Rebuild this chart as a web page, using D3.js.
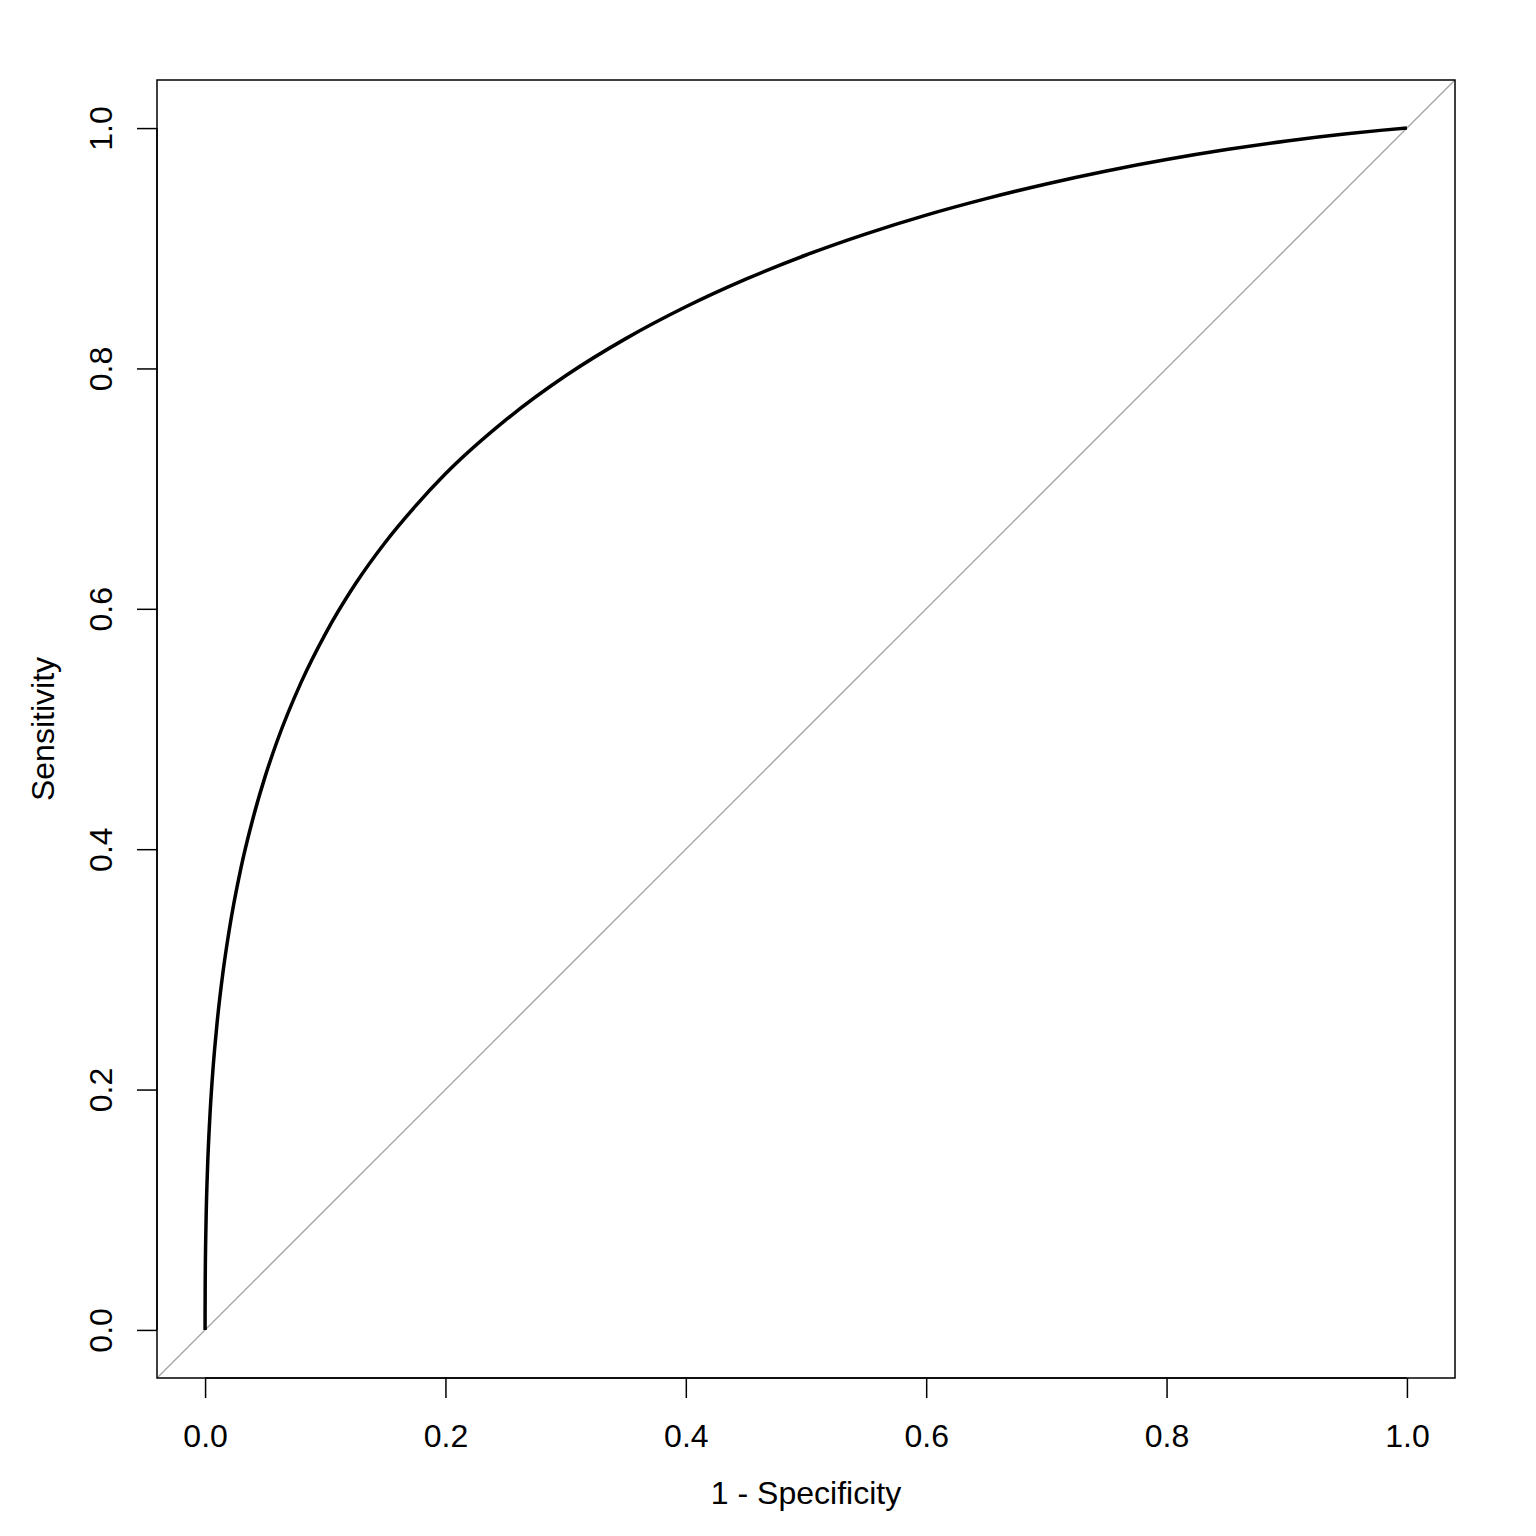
<!DOCTYPE html>
<html>
<head>
<meta charset="utf-8">
<script src="https://cdn.jsdelivr.net/npm/d3@7"></script>
<style>
  html, body { margin: 0; padding: 0; background: #fff; }
  text { font-family: "Liberation Sans", Arial, Helvetica, sans-serif; fill: #000; }
</style>
</head>
<body>
<svg id="chart" width="1536" height="1536"></svg>
<script>
// Data (1 - specificity, sensitivity)
const fpr = [0, 0.00001, 0.0001, 0.0005, 0.001, 0.002, 0.004, 0.006, 0.008, 0.01, 0.015, 0.02, 0.03, 0.04, 0.05, 0.06, 0.08, 0.10, 0.125, 0.15, 0.175, 0.2, 0.25, 0.3, 0.35, 0.4, 0.45, 0.5, 0.55, 0.6, 0.65, 0.7, 0.75, 0.8, 0.85, 0.9, 0.95, 0.98, 1.0];
const sensitivity = [0, 0.0123, 0.0359, 0.0737, 0.0996, 0.1335, 0.1775, 0.209, 0.2342, 0.2556, 0.2984, 0.3322, 0.3851, 0.4262, 0.4606, 0.490, 0.539, 0.579, 0.6206, 0.6554, 0.6854, 0.7123, 0.757, 0.7939, 0.8248, 0.8513, 0.8743, 0.8944, 0.912, 0.9276, 0.9413, 0.9535, 0.9643, 0.9738, 0.9821, 0.9893, 0.9953, 0.9983, 1.0];
const xTicks = [0, 0.2, 0.4, 0.6, 0.8, 1.0];
const yTicks = [0, 0.2, 0.4, 0.6, 0.8, 1.0];
const xLabel = "1 - Specificity";
const yLabel = "Sensitivity";

const svg = d3.select("#chart");
const pL = 157, pR = 1455, pT = 80, pB = 1378;
const fs = 32;

const x = d3.scaleLinear().domain([-0.04, 1.04]).range([pL, pR]);
const y = d3.scaleLinear().domain([-0.04, 1.04]).range([pB, pT]);

svg.append("defs").append("clipPath").attr("id", "clip")
  .append("rect").attr("x", pL).attr("y", pT).attr("width", pR - pL).attr("height", pB - pT);

// diagonal reference line (abline 0,1)
svg.append("line")
  .attr("clip-path", "url(#clip)")
  .attr("x1", x(-0.04)).attr("y1", y(-0.04))
  .attr("x2", x(1.04)).attr("y2", y(1.04))
  .attr("stroke", "#a9a9a9").attr("stroke-width", 1.5);

// ROC curve
const pts = fpr.map((f, i) => [f, sensitivity[i]]);
const line = d3.line().x(d => x(d[0])).y(d => y(d[1])).curve(d3.curveMonotoneX);
svg.append("path")
  .datum(pts)
  .attr("d", line)
  .attr("fill", "none")
  .attr("stroke", "#000")
  .attr("stroke-width", 3.5)
  .attr("stroke-linejoin", "round");

// box
svg.append("rect")
  .attr("x", pL).attr("y", pT).attr("width", pR - pL).attr("height", pB - pT)
  .attr("fill", "none").attr("stroke", "#000").attr("stroke-width", 1.5);

// x axis
const xAxis = d3.axisBottom(x).tickValues(xTicks).tickSize(20).tickPadding(26)
  .tickFormat(d3.format(".1f"));
const gx = svg.append("g").attr("transform", `translate(0,${pB})`).call(xAxis);
gx.select(".domain").attr("d", `M${x(0)},0H${x(1)}`).attr("stroke-width", 1.5);
gx.selectAll(".tick line").attr("stroke-width", 1.5);
gx.selectAll(".tick text").attr("font-size", fs).attr("font-family", "Liberation Sans, Arial, sans-serif");

// y axis
const yAxis = d3.axisLeft(y).tickValues(yTicks).tickSize(20).tickPadding(0)
  .tickFormat(d3.format(".1f"));
const gy = svg.append("g").attr("transform", `translate(${pL},0)`).call(yAxis);
gy.select(".domain").attr("d", `M0,${y(0)}V${y(1)}`).attr("stroke-width", 1.5);
gy.selectAll(".tick line").attr("stroke-width", 1.5);
gy.selectAll(".tick text")
  .attr("font-size", fs).attr("font-family", "Liberation Sans, Arial, sans-serif")
  .attr("x", 0)
  .attr("text-anchor", "middle")
  .attr("transform", "translate(-45,0) rotate(-90)")
  .attr("dy", 0);

// axis titles
svg.append("text")
  .attr("x", (pL + pR) / 2).attr("y", 1504)
  .attr("text-anchor", "middle").attr("font-size", fs)
  .text(xLabel);
svg.append("text")
  .attr("transform", `translate(54,${(pT + pB) / 2}) rotate(-90)`)
  .attr("text-anchor", "middle").attr("font-size", fs)
  .text(yLabel);
</script>
</body>
</html>
